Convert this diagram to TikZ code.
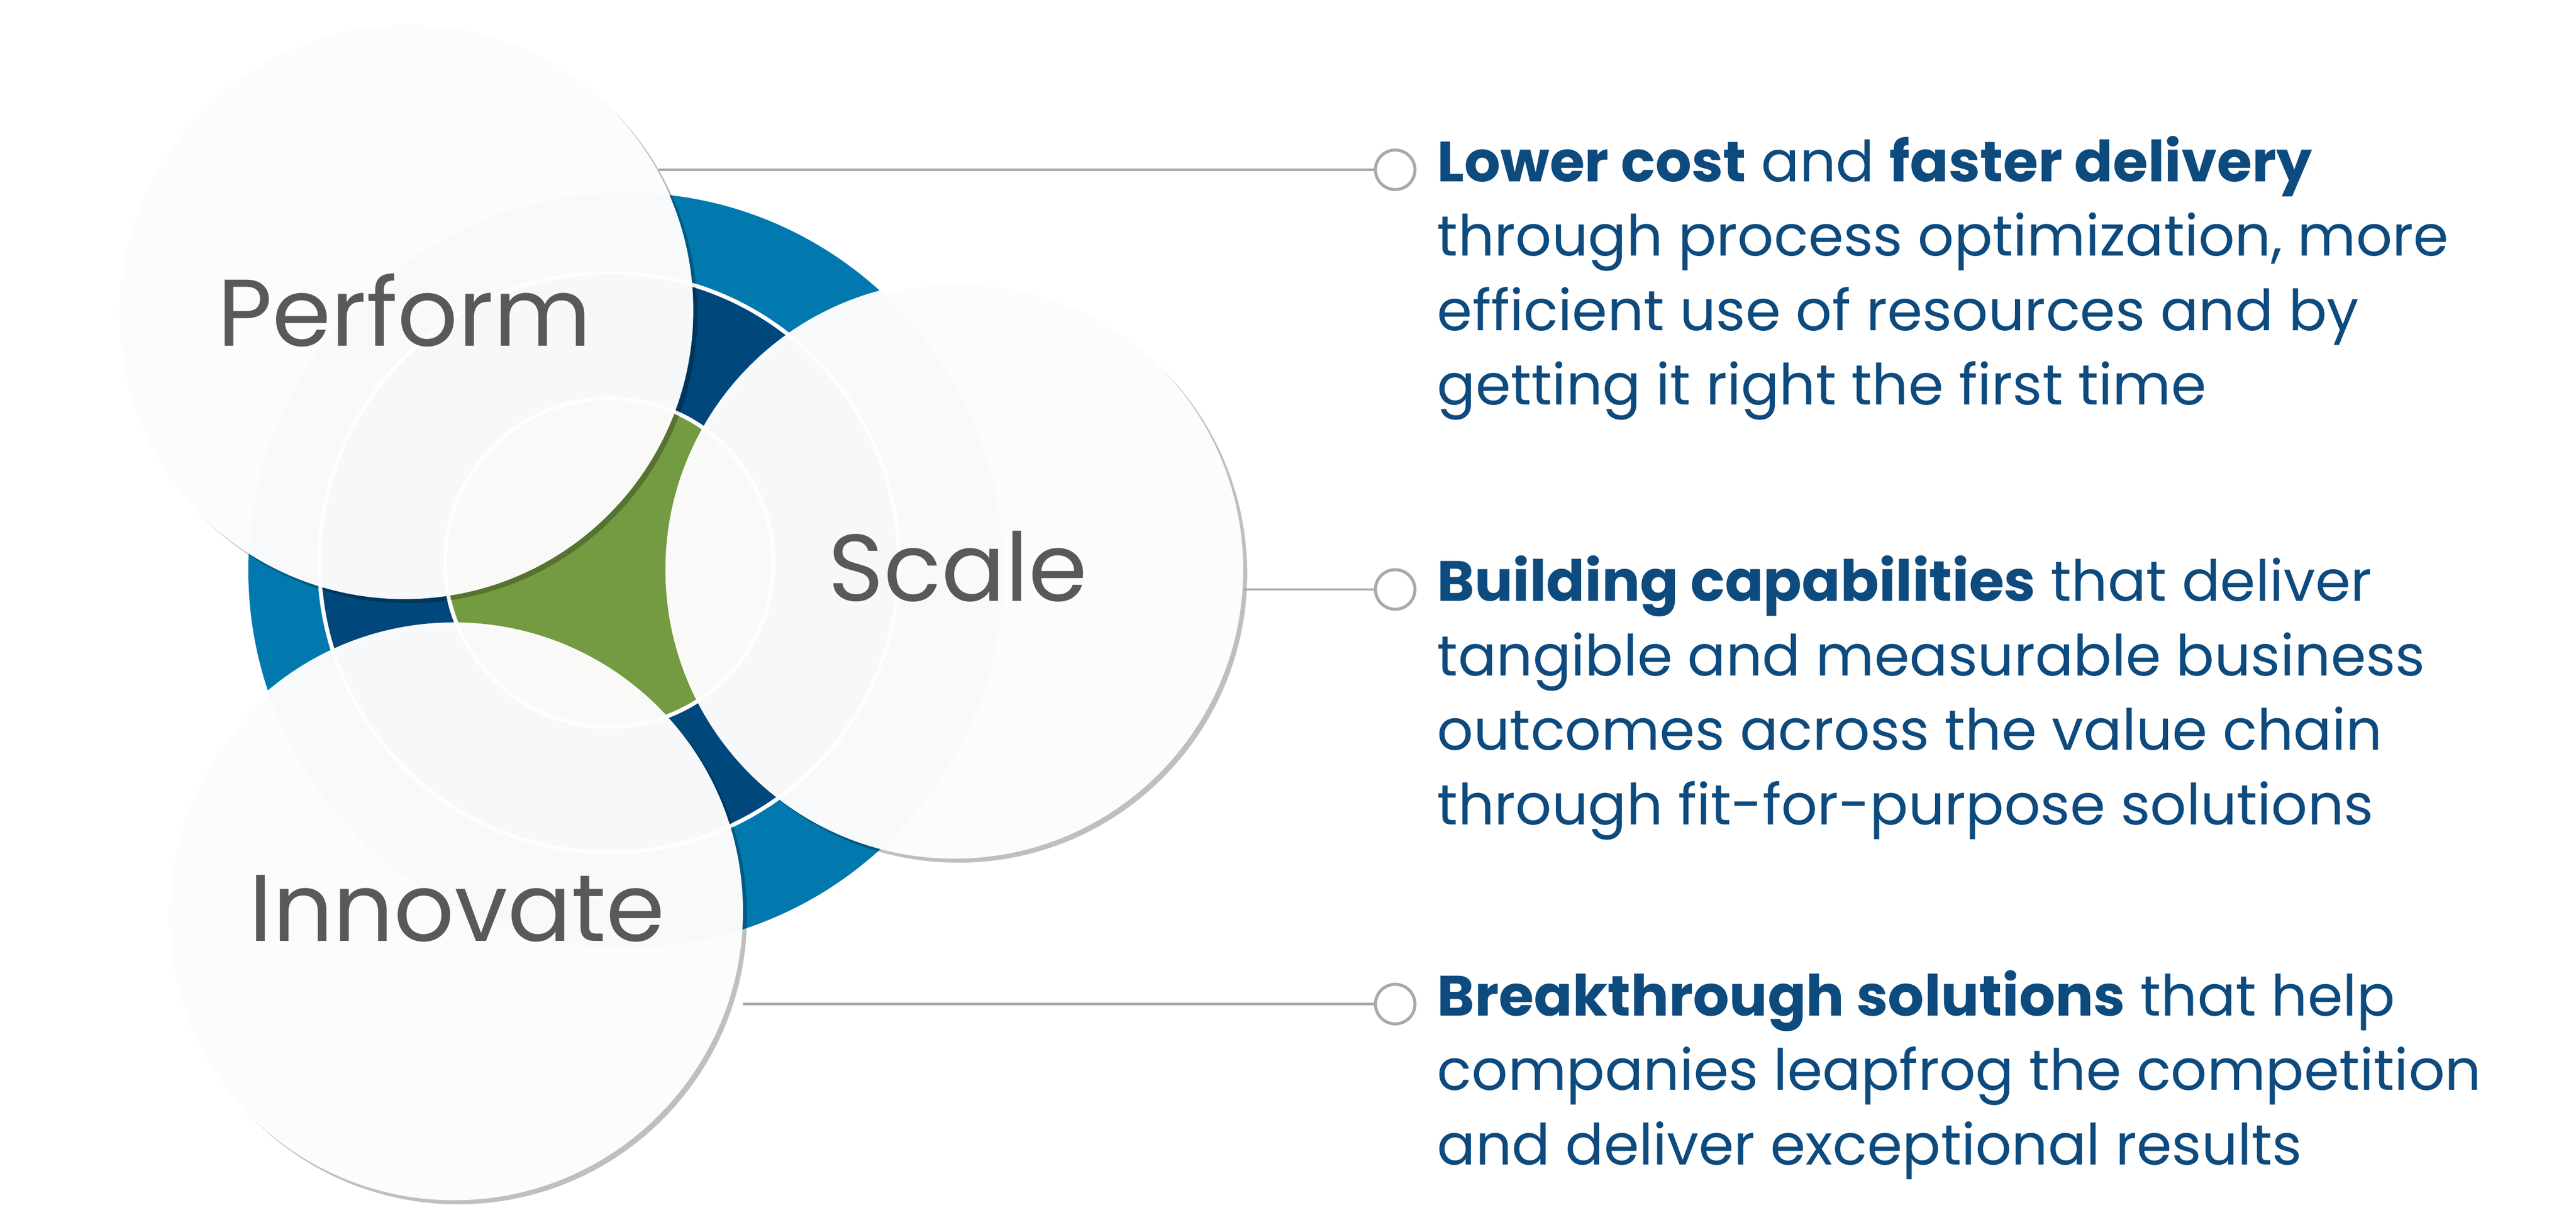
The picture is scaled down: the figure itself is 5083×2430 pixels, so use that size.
\documentclass[tikz,border=0pt]{standalone}
\usepackage{fontspec}
\setmainfont{Poppins}
\usetikzlibrary{shadows}
\definecolor{txtblue}{HTML}{0D4A7E}
\definecolor{diskblue}{HTML}{0179AF}
\definecolor{navy}{HTML}{00477B}
\definecolor{leaf}{HTML}{749A42}
\definecolor{lgray}{HTML}{A7A9AC}
\definecolor{lblgray}{HTML}{58595B}
\begin{document}
\begin{tikzpicture}[x=1pt,y=-1pt,
  bubble/.style={circle,minimum size=1140pt,inner sep=0pt,fill=white,fill opacity=0.97,
     drop shadow={shadow xshift=8pt,shadow yshift=-8pt,opacity=0.25,fill=black}},
  lbl/.style={font=\fontsize{187}{187}\selectfont,text=lblgray},
  conn/.style={draw=lgray,line width=5pt},
  marker/.style={circle,draw=lgray,line width=6pt,fill=white,minimum size=78pt,inner sep=0pt},
  desc/.style={anchor=north west,align=left,text=txtblue,inner sep=0pt,
     font=\fontsize{112}{147}\selectfont}]
\useasboundingbox[fill=white] (0,0) rectangle (5083,2430);
% core disks
\fill[diskblue] (1235,1125) circle (745);
\fill[navy] (1202,1110) circle (572);
\fill[leaf] (1202,1110) circle (324);
\draw[white,line width=8pt] (1202,1110) circle (572);
\draw[white,line width=8pt] (1202,1110) circle (324);
% bubbles
\node[bubble] (perform) at (798,612) {};
\node[bubble] (innovate) at (896,1798) {};
\node[bubble] (scale) at (1883,1124) {};
\draw[white,opacity=0.8,line width=6pt] (1202,1110) circle (572);
\draw[white,opacity=0.8,line width=6pt] (1202,1110) circle (324);
\node[lbl] at (perform) {Perform};
\node[lbl] at (1890,1118) {Scale};
\node[lbl] at (902,1792) {Innovate};
% markers and connectors
\node[marker] (m1) at (2753,335) {};
\node[marker] (m2) at (2753,1163) {};
\node[marker] (m3) at (2753,1981) {};
\coordinate (s1) at (1300,335);
\coordinate (s2) at (2453,1163);
\coordinate (s3) at (1466,1981);
\draw[conn] (s1) -- (m1.west);
\draw[conn] (s2) -- (m2.west);
\draw[conn] (s3) -- (m3.west);
% descriptions
\node[desc] at (2836,268) {\textbf{Lower cost} and \textbf{faster delivery}\\through process optimization, more\\efficient use of resources and by\\getting it right the first time};
\node[desc] at (2836,1096) {\textbf{Building capabilities} that deliver\\tangible and measurable business\\outcomes across the value chain\\through fit-for-purpose solutions};
\node[desc] at (2836,1914) {\textbf{Breakthrough solutions} that help\\companies leapfrog the competition\\and deliver exceptional results};
\end{tikzpicture}
\end{document}
